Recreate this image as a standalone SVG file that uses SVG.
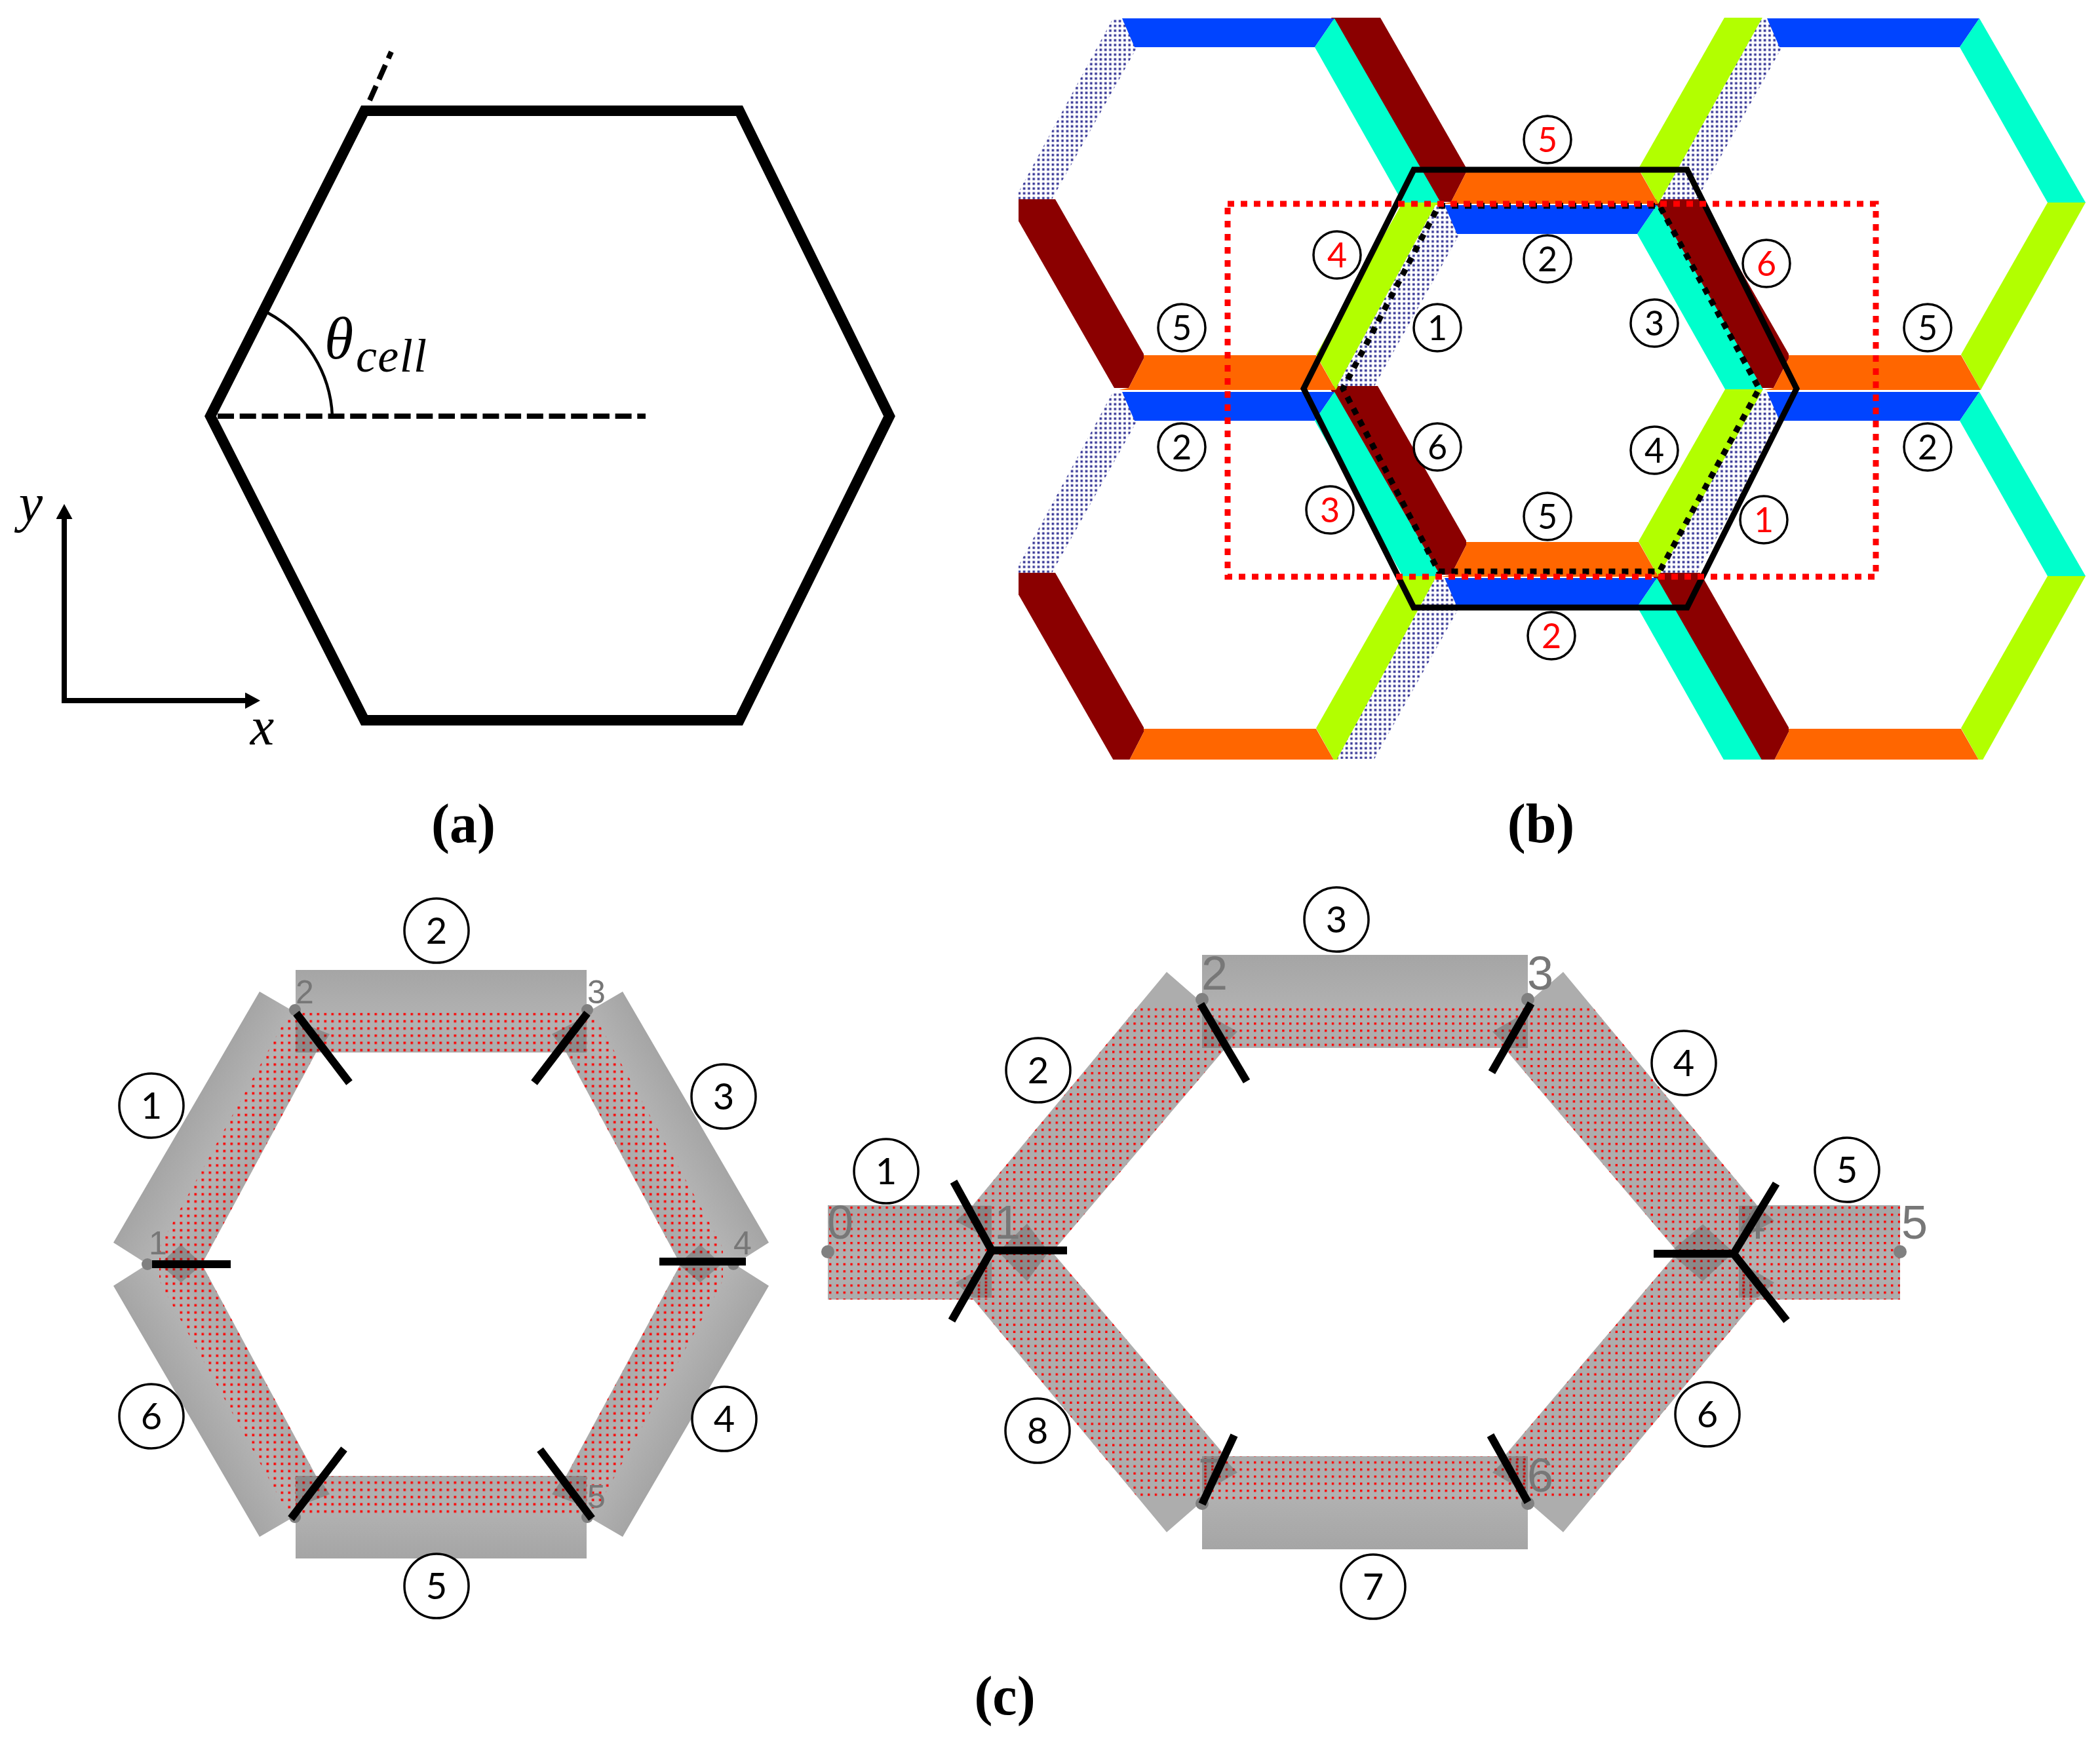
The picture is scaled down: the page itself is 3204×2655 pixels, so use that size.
<svg xmlns="http://www.w3.org/2000/svg" xmlns:xlink="http://www.w3.org/1999/xlink" width="3204" height="2655" viewBox="0 0 3204 2655">
<style>
.lc{fill:#fff;stroke:#000;stroke-width:3.5}
.d{font-family:"Lato","Liberation Sans",sans-serif;font-size:52px;text-anchor:middle;fill:#000}
.d2{font-family:"Lato","Liberation Sans",sans-serif;font-size:56px;text-anchor:middle;fill:#000}
.r{fill:#f00}
.g{font-family:"Liberation Sans",sans-serif;fill:#777;text-anchor:middle}
.tick{stroke:#000;stroke-width:12;fill:none}
.dia{fill:#000;fill-opacity:.2}
.nd{fill:#808080}
.cap{font-family:"Liberation Serif",serif;font-weight:bold;font-size:84px;text-anchor:middle;fill:#000}
.m{font-family:"Liberation Serif",serif;font-style:italic;fill:#000}
</style>
<defs>
<marker id="arrow" markerUnits="userSpaceOnUse" markerWidth="23" markerHeight="25" refX="0" refY="12.5" orient="auto" viewBox="0 0 23 25"><path d="M0,0L23,12.5L0,25Z" fill="#000"/></marker>
<pattern id="lav" patternUnits="userSpaceOnUse" width="7.3" height="7.3"><rect width="7.3" height="7.3" fill="#fff"/><rect x="1.5" y="1.5" width="3.6" height="3.6" fill="#3a3a98"/></pattern>
<pattern id="dotsL" patternUnits="userSpaceOnUse" x="472.5" y="1545.5" width="11" height="11"><rect width="3.6" height="3.6" fill="#f00"/></pattern>
<pattern id="dotsR" patternUnits="userSpaceOnUse" x="1265" y="1841" width="10.8" height="10.8"><rect width="3.4" height="3.4" fill="#f00"/></pattern>
<linearGradient id="bar" x1="0" y1="0" x2="0" y2="1"><stop offset="0" stop-color="#a5a5a5"/><stop offset=".6" stop-color="#b2b2b2"/><stop offset="1" stop-color="#acacac"/></linearGradient>
<linearGradient id="bandL" gradientUnits="userSpaceOnUse" x1="173" y1="1897" x2="282" y2="1960"><stop offset="0" stop-color="#a5a5a5"/><stop offset=".55" stop-color="#b4b4b4"/><stop offset="1" stop-color="#aaa"/></linearGradient>
<polygon id="bl" points="396,1513 451,1545 486,1599 308,1929 225,1929 173,1896" fill="url(#bandL)"/>
<polygon id="dl" points="437,1553 451,1545 486,1599 308,1929 243,1929 243,1905 250,1890" fill="url(#dotsL)"/>
<polygon id="br" points="1780,1483 1834,1530 1870,1599 1605,1911 1512,1911 1485,1838" fill="#adadad"/>
<polygon id="dr" points="1739,1532 1834,1532 1870,1599 1605,1911 1512,1911 1485,1838" fill="url(#dotsR)"/>
<polygon id="redband" points="2027,589 2102,589 2237,825 2237,832 2214,877 2192,877" fill="#8b0000"/>
<g id="cell">
<polygon points="2190,313 2205,313 2227,357 2097,589 2040,589" fill="url(#lav)"/>
<polygon points="2204,313 2528,313 2498,357 2223,357" fill="#0044ff"/>
<polygon points="2528,313 2498,357 2632,594 2690,594" fill="#00ffcc"/>
<polygon points="2632,594 2690,594 2530,880 2500,826" fill="#b2ff00"/>
<polygon points="2237,827 2500,827 2530,880 2199,880 2214,877 2237,832" fill="#ff6600"/>
</g>
<clipPath id="tileclip"><rect x="1554" y="27" width="1630" height="1132"/></clipPath>
</defs>
<rect width="3204" height="2655" fill="#fff"/>

<g id="panel-a">
<polygon id="cell-hexagon" points="556,169 1128,169 1357,635 1128,1099 556,1099 321,635" fill="none" stroke="#000" stroke-width="16"/>
<path d="M564,153L597,79" fill="none" stroke="#000" stroke-width="8" stroke-dasharray="24 11"/>
<path d="M332,635H985" fill="none" stroke="#000" stroke-width="8" stroke-dasharray="25 8.7"/>
<path d="M408,477A188,188 0 0 1 507,635" fill="none" stroke="#000" stroke-width="4.5"/>
<text class="m" x="495" y="547" font-size="90">θ</text>
<text class="m" x="543" y="567" font-size="72" textLength="108">cell</text>
<path d="M98,1073V792" fill="none" stroke="#000" stroke-width="8" marker-end="url(#arrow)"/>
<path d="M94,1069H374" fill="none" stroke="#000" stroke-width="8" marker-end="url(#arrow)"/>
<text class="m" x="47" y="795" font-size="82" text-anchor="middle">y</text>
<text class="m" x="400" y="1136" font-size="82" text-anchor="middle">x</text>
<text class="cap" x="707" y="1285">(a)</text>
</g>

<g id="panel-b">
<g id="tiles" clip-path="url(#tileclip)">
<use href="#redband" transform="translate(-492,-285)"/>
<use href="#redband" transform="translate(492,-285)"/>
<use href="#redband" transform="translate(0,-569)"/>
<use href="#redband" transform="translate(-492,285)"/>
<use href="#redband" transform="translate(492,285)"/>
<use href="#redband"/>
<use href="#cell" transform="translate(-492,-285)"/>
<use href="#cell" transform="translate(492,-285)"/>
<use href="#cell" transform="translate(0,-569)"/>
<use href="#cell" transform="translate(-492,285)"/>
<use href="#cell" transform="translate(492,285)"/>
<use href="#cell"/>
<use href="#cell" transform="translate(0,569)"/>
</g>
<polygon id="outer-hexagon" points="2157,259 2574,259 2741,593 2574,927 2157,927 1989,593" fill="none" stroke="#000" stroke-width="9"/>
<polygon id="inner-hexagon" points="2195,314 2532,314 2684,593 2532,872 2195,872 2049,593" fill="none" stroke="#000" stroke-width="9" stroke-dasharray="10 10"/>
<rect id="red-box" x="1873" y="311" width="989" height="569" fill="none" stroke="#f00" stroke-width="9" stroke-dasharray="10 10"/>
<g id="b-n1"><circle class="lc" cx="2361" cy="213" r="36"/><text class="d r" x="2361" y="232">5</text></g>
<g id="b-n2"><circle class="lc" cx="2361" cy="395" r="36"/><text class="d" x="2361" y="414">2</text></g>
<g id="b-n3"><circle class="lc" cx="2040" cy="389" r="36"/><text class="d r" x="2040" y="408">4</text></g>
<g id="b-n4"><circle class="lc" cx="2193" cy="500" r="36"/><text class="d" x="2193" y="519">1</text></g>
<g id="b-n5"><circle class="lc" cx="2524" cy="493" r="36"/><text class="d" x="2524" y="512">3</text></g>
<g id="b-n6"><circle class="lc" cx="2695" cy="402" r="36"/><text class="d r" x="2695" y="421">6</text></g>
<g id="b-n7"><circle class="lc" cx="1803" cy="500" r="36"/><text class="d" x="1803" y="519">5</text></g>
<g id="b-n8"><circle class="lc" cx="2941" cy="500" r="36"/><text class="d" x="2941" y="519">5</text></g>
<g id="b-n9"><circle class="lc" cx="1803" cy="682" r="36"/><text class="d" x="1803" y="701">2</text></g>
<g id="b-n10"><circle class="lc" cx="2193" cy="682" r="36"/><text class="d" x="2193" y="701">6</text></g>
<g id="b-n11"><circle class="lc" cx="2524" cy="687" r="36"/><text class="d" x="2524" y="706">4</text></g>
<g id="b-n12"><circle class="lc" cx="2941" cy="682" r="36"/><text class="d" x="2941" y="701">2</text></g>
<g id="b-n13"><circle class="lc" cx="2029" cy="778" r="36"/><text class="d r" x="2029" y="797">3</text></g>
<g id="b-n14"><circle class="lc" cx="2361" cy="788" r="36"/><text class="d" x="2361" y="807">5</text></g>
<g id="b-n15"><circle class="lc" cx="2691" cy="793" r="36"/><text class="d r" x="2691" y="812">1</text></g>
<g id="b-n16"><circle class="lc" cx="2367" cy="970" r="36"/><text class="d r" x="2367" y="989">2</text></g>
<text class="cap" x="2351" y="1285">(b)</text>
</g>

<g id="panel-c-left">
<use href="#bl"/><use href="#bl" transform="matrix(-1 0 0 1 1346 0)"/><use href="#bl" transform="matrix(1 0 0 -1 0 3858)"/><use href="#bl" transform="matrix(-1 0 0 -1 1346 3858)"/>
<use href="#dl"/><use href="#dl" transform="matrix(-1 0 0 1 1346 0)"/><use href="#dl" transform="matrix(1 0 0 -1 0 3858)"/><use href="#dl" transform="matrix(-1 0 0 -1 1346 3858)"/>
<rect x="451" y="1480" width="444" height="126" fill="url(#bar)"/>
<rect x="451" y="2252" width="444" height="126" fill="url(#bar)" transform="matrix(1 0 0 -1 0 4630)"/>
<rect x="451" y="1545.5" width="444" height="60" fill="url(#dotsL)"/>
<rect x="451" y="2252.5" width="444" height="60" fill="url(#dotsL)"/>
<polygon class="dia" points="276,1899 309,1929 276,1957 243,1929"/>
<polygon class="dia" points="1068,1899 1101,1929 1068,1957 1035,1929"/>
<polygon class="dia" points="451,1557 503,1578 485,1606 451,1606"/>
<polygon class="dia" points="895,1550 842,1578 863,1606 895,1606"/>
<polygon class="dia" points="451,2252 485,2252 503,2280 451,2300"/>
<polygon class="dia" points="895,2252 861,2252 842,2280 895,2300"/>
<text class="g" x="465" y="1531" font-size="50">2</text>
<text class="g" x="910" y="1531" font-size="50">3</text>
<text class="g" x="241" y="1914" font-size="50">1</text>
<text class="g" x="1133" y="1914" font-size="50">4</text>
<text class="g" x="910" y="2301" font-size="50">5</text>
<circle class="nd" cx="450" cy="1541" r="9"/><circle class="nd" cx="896" cy="1541" r="9"/><circle class="nd" cx="225" cy="1929" r="9"/><circle class="nd" cx="1119" cy="1929" r="9"/><circle class="nd" cx="450" cy="2315" r="9"/><circle class="nd" cx="896" cy="2315" r="9"/>
<g id="ticks-left">
<path class="tick" d="M452,1546L533,1652"/><path class="tick" d="M896,1546L815,1652"/>
<path class="tick" d="M525,2211L444,2317"/><path class="tick" d="M824,2212L903,2317"/>
<path class="tick" d="M232,1929H352"/><path class="tick" d="M1006,1925H1138"/>
</g>
<g id="cl-n2"><circle class="lc" cx="666" cy="1420" r="49"/><text class="d2" x="666" y="1440">2</text></g>
<g id="cl-n1"><circle class="lc" cx="231" cy="1687" r="49"/><text class="d2" x="231" y="1707">1</text></g>
<g id="cl-n3"><circle class="lc" cx="1104" cy="1673" r="49"/><text class="d2" x="1104" y="1693">3</text></g>
<g id="cl-n6"><circle class="lc" cx="231" cy="2161" r="49"/><text class="d2" x="231" y="2181">6</text></g>
<g id="cl-n4"><circle class="lc" cx="1105" cy="2165" r="49"/><text class="d2" x="1105" y="2185">4</text></g>
<g id="cl-n5"><circle class="lc" cx="666" cy="2420" r="49"/><text class="d2" x="666" y="2440">5</text></g>
</g>

<g id="panel-c-right">
<use href="#br"/><use href="#br" transform="matrix(-1 0 0 1 4165 0)"/><use href="#br" transform="matrix(1 0 0 -1 0 3821)"/><use href="#br" transform="matrix(-1 0 0 -1 4165 3821)"/>
<rect x="1834" y="1457" width="497" height="142" fill="url(#bar)"/>
<rect x="1834" y="2222" width="497" height="142" fill="url(#bar)" transform="matrix(1 0 0 -1 0 4586)"/>
<rect x="1263" y="1839" width="249" height="144" fill="url(#bar)"/>
<rect x="2653" y="1839" width="246" height="144" fill="url(#bar)"/>
<use href="#dr"/><use href="#dr" transform="matrix(-1 0 0 1 4165 0)"/><use href="#dr" transform="matrix(1 0 0 -1 0 3821)"/><use href="#dr" transform="matrix(-1 0 0 -1 4165 3821)"/>
<rect x="1834" y="1532" width="497" height="67" fill="url(#dotsR)"/>
<rect x="1834" y="2222" width="497" height="67" fill="url(#dotsR)"/>
<rect x="1263" y="1839" width="249" height="144" fill="url(#dotsR)"/>
<rect x="2653" y="1839" width="246" height="144" fill="url(#dotsR)"/>
<polygon class="dia" points="1567,1867 1600,1910 1567,1955 1523,1910"/>
<polygon class="dia" points="2598,1868 2645,1911 2598,1955 2547,1911"/>
<polygon class="dia" points="1483,1840 1513,1840 1513,1893 1458,1863"/>
<polygon class="dia" points="1458,1957 1513,1925 1513,1980 1483,1980"/>
<polygon class="dia" points="2682,1840 2653,1840 2653,1893 2707,1863"/>
<polygon class="dia" points="2707,1957 2653,1925 2653,1980 2682,1980"/>
<polygon class="dia" points="1834,1543 1888,1574 1864,1599 1834,1599"/>
<polygon class="dia" points="2331,1543 2277,1574 2301,1599 2331,1599"/>
<polygon class="dia" points="1834,2278 1888,2247 1864,2222 1834,2222"/>
<polygon class="dia" points="2331,2278 2277,2247 2301,2222 2331,2222"/>
<text class="g" x="1282" y="1890" font-size="72">0</text>
<text class="g" x="1537" y="1890" font-size="72">1</text>
<text class="g" x="1853" y="1510" font-size="72">2</text>
<text class="g" x="2350" y="1510" font-size="72">3</text>
<text class="g" x="2674" y="1890" font-size="72">4</text>
<text class="g" x="2921" y="1890" font-size="72">5</text>
<text class="g" x="2350" y="2276" font-size="72">6</text>
<text class="g" x="1848" y="2276" font-size="72">7</text>
<circle class="nd" cx="1263" cy="1910" r="10"/><circle class="nd" cx="1834" cy="1525" r="10"/><circle class="nd" cx="2331" cy="1525" r="10"/><circle class="nd" cx="2899" cy="1910" r="10"/><circle class="nd" cx="1834" cy="2294" r="10"/><circle class="nd" cx="2331" cy="2294" r="10"/>
<g id="ticks-right">
<path class="tick" d="M1832,1532L1902,1650"/><path class="tick" d="M2336,1531L2276,1636"/>
<path class="tick" d="M1883,2190L1834,2295"/><path class="tick" d="M2274,2190L2331,2292"/>
<path class="tick" d="M1455,1803L1513,1908L1452,2015M1513,1908H1628"/>
<path class="tick" d="M2710,1806L2645,1913L2726,2015M2645,1913H2523"/>
</g>
<g id="cr-n3"><circle class="lc" cx="2039" cy="1403" r="49"/><text class="d2" x="2039" y="1423">3</text></g>
<g id="cr-n2"><circle class="lc" cx="1584" cy="1633" r="49"/><text class="d2" x="1584" y="1653">2</text></g>
<g id="cr-n4"><circle class="lc" cx="2569" cy="1622" r="49"/><text class="d2" x="2569" y="1642">4</text></g>
<g id="cr-n1"><circle class="lc" cx="1352" cy="1787" r="49"/><text class="d2" x="1352" y="1807">1</text></g>
<g id="cr-n5"><circle class="lc" cx="2818" cy="1785" r="49"/><text class="d2" x="2818" y="1805">5</text></g>
<g id="cr-n8"><circle class="lc" cx="1583" cy="2183" r="49"/><text class="d2" x="1583" y="2203">8</text></g>
<g id="cr-n6"><circle class="lc" cx="2605" cy="2158" r="49"/><text class="d2" x="2605" y="2178">6</text></g>
<g id="cr-n7"><circle class="lc" cx="2095" cy="2421" r="49"/><text class="d2" x="2095" y="2441">7</text></g>
</g>
<text class="cap" x="1533" y="2616">(c)</text>
</svg>
